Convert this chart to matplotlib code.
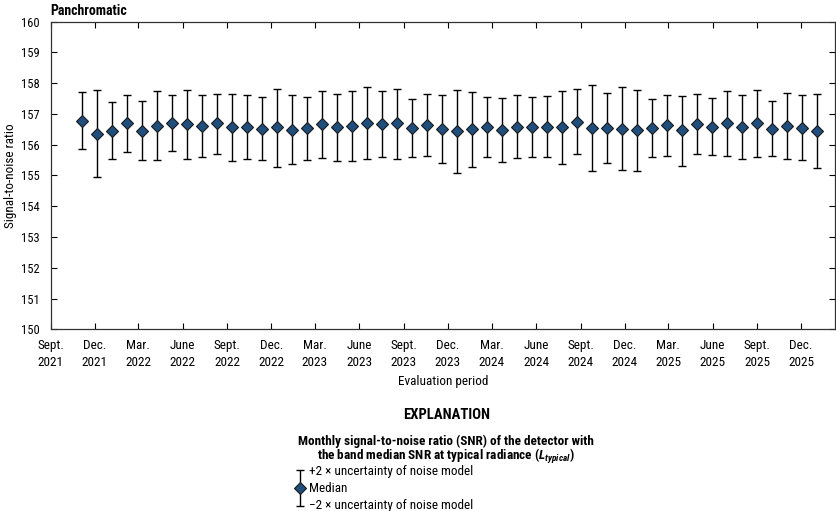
import numpy as np
import pandas as pd
import matplotlib
matplotlib.use("Agg")
import matplotlib.pyplot as plt
from matplotlib import font_manager as fm


def first_font(names):
    for name in names:
        try:
            fm.findfont(fm.FontProperties(family=name), fallback_to_default=False)
            return name
        except Exception:
            pass
    return 'DejaVu Sans'


main_font = first_font(['Liberation Sans Narrow', 'DejaVu Sans Condensed',
                        'Roboto Condensed', 'Liberation Sans', 'Roboto'])
plt.rcParams['font.family'] = [main_font, 'DejaVu Sans']
plt.rcParams['mathtext.fontset'] = 'custom'
plt.rcParams['mathtext.it'] = main_font + ':italic:bold'
plt.rcParams['mathtext.rm'] = main_font + ':bold'

# evaluation dates (one per period) and SNR values
eval_dates = pd.date_range('2021-11-05', periods=50, freq='31D')
median = [156.78, 156.35, 156.46, 156.70, 156.46, 156.62, 156.69, 156.66, 156.62, 156.70,
          156.57, 156.58, 156.51, 156.56, 156.48, 156.53, 156.66, 156.57, 156.60, 156.70,
          156.67, 156.69, 156.53, 156.65, 156.50, 156.46, 156.50, 156.58, 156.49, 156.59,
          156.58, 156.59, 156.57, 156.75, 156.53, 156.53, 156.51, 156.47, 156.53, 156.63,
          156.47, 156.67, 156.59, 156.69, 156.57, 156.70, 156.51, 156.62, 156.55, 156.46]
upper = [157.70, 157.78, 157.40, 157.63, 157.43, 157.75, 157.60, 157.78, 157.63, 157.66,
         157.66, 157.62, 157.55, 157.82, 157.60, 157.56, 157.73, 157.66, 157.73, 157.87,
         157.76, 157.80, 157.49, 157.66, 157.61, 157.79, 157.70, 157.56, 157.52, 157.61,
         157.54, 157.57, 157.76, 157.80, 157.93, 157.68, 157.86, 157.78, 157.50, 157.61,
         157.58, 157.64, 157.53, 157.74, 157.61, 157.77, 157.41, 157.67, 157.61, 157.65]
lower = [155.85, 154.94, 155.52, 155.75, 155.49, 155.50, 155.79, 155.54, 155.61, 155.71,
         155.47, 155.55, 155.49, 155.29, 155.36, 155.49, 155.57, 155.48, 155.48, 155.54,
         155.59, 155.53, 155.60, 155.63, 155.41, 155.09, 155.29, 155.59, 155.45, 155.57,
         155.61, 155.59, 155.37, 155.69, 155.15, 155.41, 155.18, 155.16, 155.59, 155.64,
         155.32, 155.71, 155.66, 155.62, 155.55, 155.61, 155.62, 155.55, 155.49, 155.24]

tick_dates = pd.date_range('2021-09-01', '2025-12-01', freq='3MS')
tick_labels = ['Sept.\n2021', 'Dec.\n2021', 'Mar.\n2022', 'June\n2022',
               'Sept.\n2022', 'Dec.\n2022', 'Mar.\n2023', 'June\n2023',
               'Sept.\n2023', 'Dec.\n2023', 'Mar.\n2024', 'June\n2024',
               'Sept.\n2024', 'Dec.\n2024', 'Mar.\n2025', 'June\n2025',
               'Sept.\n2025', 'Dec.\n2025']

fill = '#1f4e7d'
med = np.array(median)
yerr = [med - np.array(lower), np.array(upper) - med]

fig = plt.figure(figsize=(8.37, 5.11), dpi=100)
ax = fig.add_axes([0.0606, 0.3556, 0.937, 0.602])

ax.errorbar(eval_dates, med, yerr=yerr, fmt='none', ecolor='black',
            elinewidth=1.0, capsize=2.9, capthick=1.0)
ax.plot(eval_dates, med, linestyle='none', marker='D', markersize=6.0,
        markerfacecolor=fill, markeredgecolor='#1a1a1a', markeredgewidth=0.8)

ax.set_ylim(150, 160)
ax.set_yticks(range(150, 161))
ax.set_xlim(pd.Timestamp('2021-09-01'), pd.Timestamp('2026-02-09'))
ax.set_xticks(tick_dates)
ax.set_xticklabels(tick_labels, linespacing=1.4)
ax.tick_params(direction='in', length=4, width=0.8, top=True, right=True,
               labelsize=9.5, pad=7, colors='black')
ax.tick_params(axis='y', labelsize=9, pad=8)
for s in ax.spines.values():
    s.set_linewidth(0.9)
    s.set_color('#333333')

ax.set_ylabel('Signal-to-noise ratio', fontsize=9.5)
ax.yaxis.set_label_coords(-0.043, 0.5)
ax.set_xlabel('Evaluation period', fontsize=9.5, labelpad=4)
ax.text(0.0, 1.012, 'Panchromatic', transform=ax.transAxes, fontsize=10,
        fontweight='bold', ha='left', va='bottom')

# explanation
fig.text(447 / 837, 1 - 415 / 511, 'EXPLANATION', fontsize=10.5, fontweight='bold',
         ha='center', va='center')
fig.text(446 / 837, 1 - 441 / 511,
         'Monthly signal-to-noise ratio (SNR) of the detector with',
         fontsize=9.5, fontweight='bold', ha='center', va='center')
fig.text(446 / 837, 1 - 456 / 511,
         r'the band median SNR at typical radiance ($L_{typical}$)',
         fontsize=9.5, fontweight='bold', ha='center', va='center')

lax = fig.add_axes([290 / 837, 1 - 507 / 511, 20 / 837, 38 / 511])
lax.errorbar([0], [0], yerr=[[1], [1]], fmt='none', ecolor='black',
             elinewidth=1.0, capsize=2.9, capthick=1.0)
lax.plot([0], [0], linestyle='none', marker='D', markersize=6.0,
         markerfacecolor=fill, markeredgecolor='#1a1a1a', markeredgewidth=0.8)
lax.set_xlim(-1, 1)
lax.set_ylim(-1.05, 1.05)
lax.axis('off')

fig.text(309 / 837, 1 - 471 / 511, '+2 × uncertainty of noise model', fontsize=9.5,
         ha='left', va='center')
fig.text(309 / 837, 1 - 488 / 511, 'Median', fontsize=9.5, ha='left', va='center')
fig.text(309 / 837, 1 - 505 / 511, '\u22122 × uncertainty of noise model', fontsize=9.5,
         ha='left', va='center')

fig.savefig('out.png', dpi=100)
